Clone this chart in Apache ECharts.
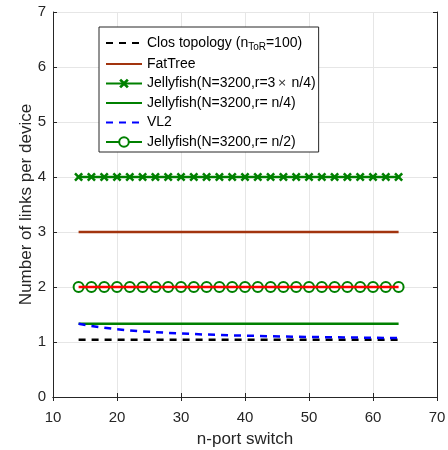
<!DOCTYPE html>
<html>
<head>
<meta charset="utf-8">
<script src="https://cdn.jsdelivr.net/npm/echarts@6/dist/echarts.min.js"></script>
<style>
  html, body { margin: 0; padding: 0; background: #fff; }
  #chart { width: 448px; height: 450px; }
</style>
</head>
<body>
<div id="chart"></div>
<script>
// switch port counts (n) on the x axis
const portCounts = [14, 16, 18, 20, 22, 24, 26, 28, 30, 32, 34, 36, 38, 40, 42, 44, 46, 48, 50, 52, 54, 56, 58, 60, 62, 64];

// links per device for each topology
const closLinks = [1.04, 1.04, 1.04, 1.04, 1.04, 1.04, 1.04, 1.04, 1.04, 1.04, 1.04, 1.04, 1.04, 1.04, 1.04, 1.04, 1.04, 1.04, 1.04, 1.04, 1.04, 1.04, 1.04, 1.04, 1.04, 1.04];
const fatTreeLinks = [3, 3, 3, 3, 3, 3, 3, 3, 3, 3, 3, 3, 3, 3, 3, 3, 3, 3, 3, 3, 3, 3, 3, 3, 3, 3];
const jellyThreeQuarterLinks = [4, 4, 4, 4, 4, 4, 4, 4, 4, 4, 4, 4, 4, 4, 4, 4, 4, 4, 4, 4, 4, 4, 4, 4, 4, 4];
const jellyQuarterLinks = [1.333, 1.333, 1.333, 1.333, 1.333, 1.333, 1.333, 1.333, 1.333, 1.333, 1.333, 1.333, 1.333, 1.333, 1.333, 1.333, 1.333, 1.333, 1.333, 1.333, 1.333, 1.333, 1.333, 1.333, 1.333, 1.333];
const vl2Links = [1.33, 1.29, 1.26, 1.23, 1.21, 1.19, 1.18, 1.165, 1.155, 1.145, 1.135, 1.13, 1.12, 1.115, 1.11, 1.105, 1.1, 1.096, 1.092, 1.089, 1.086, 1.083, 1.08, 1.077, 1.074, 1.072];
const jellyHalfLinks = [2, 2, 2, 2, 2, 2, 2, 2, 2, 2, 2, 2, 2, 2, 2, 2, 2, 2, 2, 2, 2, 2, 2, 2, 2, 2];
const referenceLinks = [2, 2, 2, 2, 2, 2, 2, 2, 2, 2, 2, 2, 2, 2, 2, 2, 2, 2, 2, 2, 2, 2, 2, 2, 2, 2];

// axis ticks
const xTicks = [10, 20, 30, 40, 50, 60, 70];
const yTicks = [0, 1, 2, 3, 4, 5, 6, 7];

const seriesNames = [
  'Clos topology',
  'FatTree',
  'Jellyfish(N=3200,r=3x n/4)',
  'Jellyfish(N=3200,r= n/4)',
  'VL2',
  'Jellyfish(N=3200,r= n/2)'
];

const pairs = vals => portCounts.map((n, i) => [n, vals[i]]);

const FONT = 'Liberation Sans, Arial, Helvetica, sans-serif';
const INK = '#262626';
const GREEN = '#008000';

// filled "x" marker
const crossPath = 'path://M2,0L5,3L8,0L10,2L7,5L10,8L8,10L5,7L2,10L0,8L3,5L0,2Z';

const chart = echarts.init(document.getElementById('chart'), null, { renderer: 'canvas' });

const hiddenAxisCommon = {
  type: 'value',
  axisLabel: { show: false },
  splitLine: { show: false },
  axisLine: { show: true, lineStyle: { color: INK, width: 1 } },
  axisTick: { show: true, inside: true, length: 4, lineStyle: { color: INK } }
};

// plain lines show no marker in the legend
const noMarker = { opacity: 0 };

chart.setOption({
  animation: false,
  backgroundColor: '#fff',
  textStyle: { fontFamily: FONT },
  grid: { left: 53, right: 11, top: 12, bottom: 53, containLabel: false, outerBoundsMode: 'none' },
  legend: {
    orient: 'vertical',
    left: 99,
    top: 27,
    padding: [6.5, 3, 2, 6],
    itemWidth: 36,
    itemHeight: 12,
    itemGap: 3.5,
    backgroundColor: '#fff',
    borderColor: INK,
    borderWidth: 1,
    borderRadius: 0,
    data: [
      { name: seriesNames[0], itemStyle: noMarker },
      { name: seriesNames[1], itemStyle: noMarker },
      { name: seriesNames[2] },
      { name: seriesNames[3], itemStyle: noMarker },
      { name: seriesNames[4], itemStyle: noMarker },
      { name: seriesNames[5] }
    ],
    formatter: function (name) {
      if (name === seriesNames[0]) {
        return 'Clos topology (n{sub|ToR}=100)';
      }
      if (name === seriesNames[2]) {
        return 'Jellyfish(N=3200,r=3{x|\u00d7} n/4)';
      }
      return name;
    },
    textStyle: {
      fontFamily: FONT,
      fontSize: 14,
      lineHeight: 16,
      color: '#000',
      rich: {
        sub: { fontSize: 10, fontFamily: FONT, color: '#000', lineHeight: 12, padding: [9, 0, 0, 0] },
        x: { fontSize: 11, fontFamily: 'DejaVu Sans, sans-serif', color: '#333', padding: [0, 1, 0, 2] }
      }
    }
  },
  xAxis: [
    {
      type: 'value',
      min: 10,
      max: 70,
      interval: 10,
      name: 'n-port switch',
      nameLocation: 'middle',
      nameGap: 34,
      nameMoveOverlap: false,
      nameTextStyle: { fontFamily: FONT, fontSize: 17, color: INK },
      axisLine: { show: true, onZero: false, lineStyle: { color: INK, width: 1 } },
      axisTick: { show: true, inside: true, length: 4, lineStyle: { color: INK } },
      axisLabel: {
        fontFamily: FONT, fontSize: 15, color: INK, margin: 13,
        formatter: v => (xTicks.includes(v) ? String(v) : '')
      },
      splitLine: { show: true, lineStyle: { color: '#e6e6e6', width: 1 } }
    },
    Object.assign({ position: 'top', min: 10, max: 70, interval: 10 }, hiddenAxisCommon)
  ],
  yAxis: [
    {
      type: 'value',
      min: 0,
      max: 7,
      interval: 1,
      name: 'Number of links per device',
      nameLocation: 'middle',
      nameGap: 18,
      nameMoveOverlap: false,
      nameTextStyle: { fontFamily: FONT, fontSize: 17, color: INK },
      axisLine: { show: true, onZero: false, lineStyle: { color: INK, width: 1 } },
      axisTick: { show: true, inside: true, length: 4, lineStyle: { color: INK } },
      axisLabel: {
        fontFamily: FONT, fontSize: 15, color: INK, margin: 7,
        formatter: v => (yTicks.includes(v) ? String(v) : '')
      },
      splitLine: { show: true, lineStyle: { color: '#e6e6e6', width: 1 } }
    },
    Object.assign({ position: 'right', min: 0, max: 7, interval: 1 }, hiddenAxisCommon)
  ],
  series: [
    {
      name: seriesNames[0],
      type: 'line',
      data: pairs(closLinks),
      symbol: 'none',
      lineStyle: { color: '#000', width: 2.5, type: [7, 6] },
      itemStyle: { color: '#000' },
      z: 3
    },
    {
      name: seriesNames[1],
      type: 'line',
      data: pairs(fatTreeLinks),
      symbol: 'none',
      lineStyle: { color: '#a2340e', width: 2.5 },
      itemStyle: { color: '#a2340e' },
      z: 3
    },
    {
      name: seriesNames[2],
      type: 'line',
      data: pairs(jellyThreeQuarterLinks),
      symbol: crossPath,
      symbolSize: 9,
      showAllSymbol: true,
      lineStyle: { color: GREEN, width: 2.5 },
      itemStyle: { color: GREEN, borderWidth: 0 },
      z: 3
    },
    {
      name: seriesNames[3],
      type: 'line',
      data: pairs(jellyQuarterLinks),
      symbol: 'none',
      lineStyle: { color: GREEN, width: 2.5 },
      itemStyle: { color: GREEN },
      z: 3
    },
    {
      name: seriesNames[4],
      type: 'line',
      data: pairs(vl2Links),
      symbol: 'none',
      lineStyle: { color: '#0000ff', width: 2.5, type: [7, 6] },
      itemStyle: { color: '#0000ff' },
      z: 4
    },
    {
      name: seriesNames[5],
      type: 'line',
      data: pairs(jellyHalfLinks),
      symbol: 'emptyCircle',
      symbolSize: 10,
      showAllSymbol: true,
      lineStyle: { color: GREEN, width: 2.5 },
      itemStyle: { color: GREEN, borderColor: GREEN, borderWidth: 2.2 },
      z: 3
    },
    {
      name: 'reference',
      type: 'line',
      data: pairs(referenceLinks),
      symbol: 'none',
      lineStyle: { color: '#ff0000', width: 2.5 },
      itemStyle: { color: '#ff0000' },
      z: 5
    }
  ]
});
</script>
</body>
</html>
